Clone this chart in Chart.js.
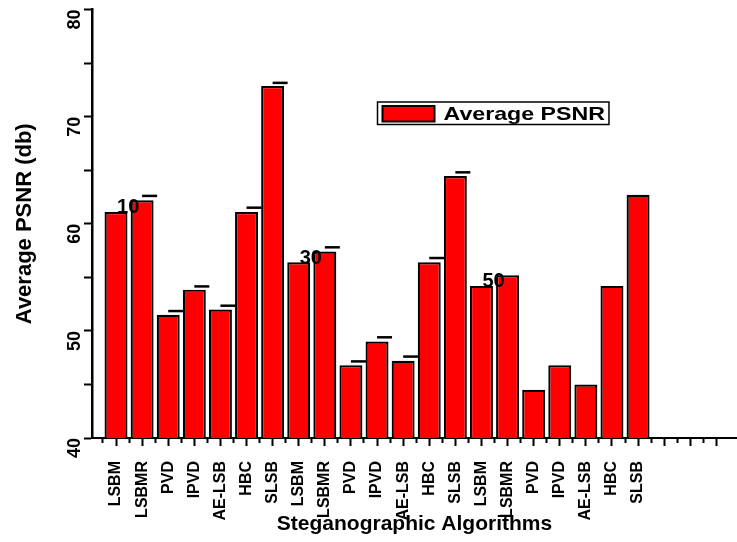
<!DOCTYPE html>
<html>
<head>
<meta charset="utf-8">
<title>Average PSNR</title>
<script src="https://cdn.jsdelivr.net/npm/chart.js@4.4.1/dist/chart.umd.min.js"></script>
<style>
  html, body { margin: 0; padding: 0; background: #ffffff; }
  #wrap { width: 737px; height: 542px; position: relative; }
</style>
</head>
<body>
<div id="wrap"><canvas id="chart"></canvas></div>
<script>
// categories: three groups of the same seven algorithms
var algorithms = [
  "LSBM", "LSBMR", "PVD", "IPVD", "AE-LSB", "HBC", "SLSB",
  "LSBM", "LSBMR", "PVD", "IPVD", "AE-LSB", "HBC", "SLSB",
  "LSBM", "LSBMR", "PVD", "IPVD", "AE-LSB", "HBC", "SLSB"
];
var groupNames = ["10", "30", "50"];
var psnr = [
  61.1, 62.2, 51.5, 53.85, 52.0, 61.1, 72.85,
  56.4, 57.4, 46.8, 49.0, 47.2, 56.4, 64.45,
  54.2, 55.2, 44.5, 46.8, 45.0, 54.2, 62.7
];
// top of the small error caps (null = no cap drawn)
var psnrUpper = [
  null, 62.6, 51.85, 54.15, 52.35, 61.5, 73.15,
  null, 57.8, 47.15, 49.4, 47.6, 56.8, 64.8,
  null, null, null, null, null, null, null
];
var yLabels = [40, 50, 60, 70, 80];
var slotCount = 24; // axis keeps going past the last bar

var FONT = '"Liberation Sans", Arial, Helvetica, sans-serif';

var centerTicks = [];
var edgeTicks = [];
for (var i = 1; i <= slotCount; i++) {
  centerTicks.push({ value: i });
  edgeTicks.push({ value: i - 0.5 });
}

var decorations = {
  id: "decorations",
  afterDatasetsDraw: function (chart) {
    var ctx = chart.ctx;
    var y = chart.scales.y;
    var meta = chart.getDatasetMeta(0);
    ctx.save();

    // error caps
    ctx.strokeStyle = "#000";
    ctx.lineWidth = 2.5;
    psnrUpper.forEach(function (v, i) {
      if (v === null) return;
      var bar = meta.data[i];
      var py = y.getPixelForValue(v);
      ctx.beginPath();
      ctx.moveTo(bar.x, py);
      ctx.lineTo(bar.x + 15, py);
      ctx.stroke();
    });

    // group numbers on the first bar of each group
    ctx.fillStyle = "#000";
    ctx.font = "bold 20px " + FONT;
    ctx.textAlign = "left";
    ctx.textBaseline = "alphabetic";
    groupNames.forEach(function (t, g) {
      var bar = meta.data[g * 7];
      ctx.fillText(t, bar.x + 1, bar.y + 1.5);
    });

    // rotated y tick labels
    ctx.font = "bold 18px " + FONT;
    ctx.textAlign = "right";
    yLabels.forEach(function (v) {
      var py = y.getPixelForValue(v);
      ctx.save();
      ctx.translate(80, py);
      ctx.rotate(-Math.PI / 2);
      ctx.fillText(String(v), 0, 0);
      ctx.restore();
    });

    // legend box
    var label = chart.data.datasets[0].label;
    var lx = chart.chartArea.left + 285.5;
    var ly = chart.chartArea.top + 92.5;
    ctx.font = "bold 19px " + FONT;
    var tw = ctx.measureText(label).width * 1.22;
    var bw = 66 + tw + 4;
    ctx.fillStyle = "#fff";
    ctx.fillRect(lx, ly, bw, 22.5);
    ctx.lineWidth = 1.5;
    ctx.strokeStyle = "#000";
    ctx.strokeRect(lx, ly, bw, 22.5);
    ctx.fillStyle = chart.data.datasets[0].backgroundColor;
    ctx.fillRect(lx + 5, ly + 4, 52, 15.5);
    ctx.lineWidth = 2;
    ctx.strokeRect(lx + 5, ly + 4, 52, 15.5);
    ctx.fillStyle = "#000";
    ctx.textAlign = "left";
    ctx.save();
    ctx.translate(lx + 66, ly + 17.5);
    ctx.scale(1.22, 1);
    ctx.fillText(label, 0, 0);
    ctx.restore();

    ctx.restore();
  }
};

var ctx = document.getElementById("chart");
var myChart = new Chart(ctx, {
  type: "bar",
  data: {
    datasets: [
      {
        label: "Average PSNR",
        data: psnr.map(function (v, i) {
          return { x: i + 1, y: v };
        }),
        backgroundColor: "#ff0000",
        borderColor: "#000000",
        borderWidth: 2.2,
        borderSkipped: false,
        barPercentage: 0.88,
        categoryPercentage: 1,
        xAxisID: "x",
        yAxisID: "y"
      }
    ]
  },
  options: {
    responsive: true,
    maintainAspectRatio: false,
    animation: false,
    layout: { padding: { top: 9.5, right: 0, bottom: 0, left: 0 } },
    plugins: {
      legend: { display: false },
      tooltip: { enabled: false }
    },
    scales: {
      x: {
        type: "linear",
        position: "bottom",
        weight: 1,
        offset: false,
        min: 0.08,
        max: 24.79,
        afterBuildTicks: function (s) {
          s.ticks = centerTicks.slice();
        },
        afterFit: function (s) {
          s.height = 104;
          s.paddingLeft = 0;
          s.paddingRight = 0;
        },
        grid: {
          offset: false,
          drawOnChartArea: false,
          tickLength: 8,
          tickWidth: 2,
          tickColor: "#000"
        },
        border: { display: true, color: "#000", width: 2 },
        ticks: {
          autoSkip: false,
          minRotation: 90,
          maxRotation: 90,
          padding: 15,
          color: "#000",
          font: { family: FONT, size: 16, weight: "bold" },
          callback: function (v) {
            return algorithms[v - 1] || "";
          }
        },
        title: {
          display: true,
          text: "Steganographic Algorithms",
          color: "#000",
          font: { family: FONT, size: 21, weight: "bold" },
          padding: { top: 0, bottom: 5 }
        }
      },
      x2: {
        type: "linear",
        position: "bottom",
        weight: 0,
        offset: false,
        min: 0.08,
        max: 24.79,
        afterBuildTicks: function (s) {
          s.ticks = edgeTicks.slice();
        },
        afterFit: function (s) {
          s.height = 0;
          s.paddingLeft = 0;
          s.paddingRight = 0;
        },
        grid: {
          offset: false,
          drawOnChartArea: false,
          tickLength: 5,
          tickWidth: 2,
          tickColor: "#000"
        },
        border: { display: false },
        ticks: { display: false }
      },
      y: {
        min: 40,
        max: 80,
        afterFit: function (s) {
          s.width = 92;
          s.paddingTop = 0;
          s.paddingBottom = 0;
        },
        grid: {
          drawOnChartArea: false,
          tickLength: 8,
          tickWidth: 2,
          tickColor: "#000"
        },
        border: { display: true, color: "#000", width: 2.5 },
        ticks: { display: false, stepSize: 5 },
        title: {
          display: true,
          text: "Average PSNR (db)",
          color: "#000",
          font: { family: FONT, size: 22, weight: "bold" },
          padding: { top: 12, bottom: 0 }
        }
      }
    }
  },
  plugins: [decorations]
});
</script>
</body>
</html>
